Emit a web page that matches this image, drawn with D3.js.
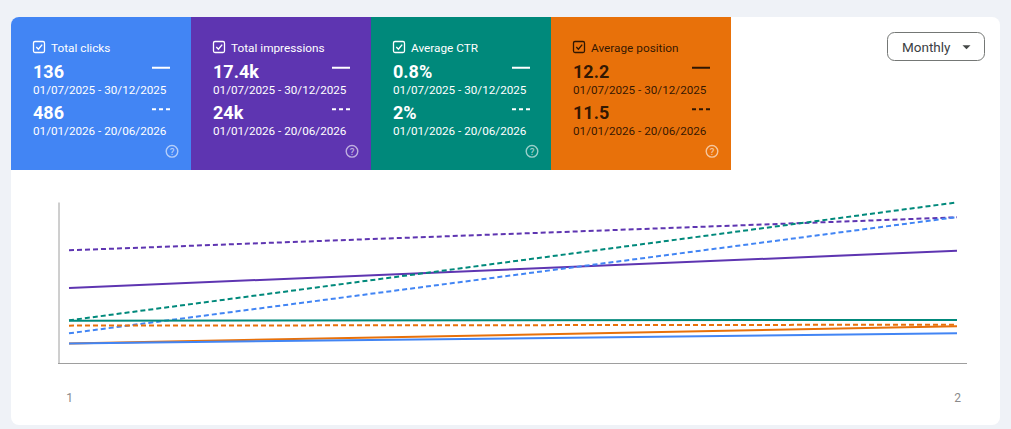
<!DOCTYPE html>
<html>
<head>
<meta charset="utf-8">
<script src="https://cdn.jsdelivr.net/npm/d3@7"></script>
<style>
  html, body { margin: 0; padding: 0; background: #eff2f7; }
  svg { display: block; font-family: Roboto, "Noto Sans", sans-serif; }
</style>
</head>
<body>
<script>
// metric tiles
var metrics = ["Total clicks", "Total impressions", "Average CTR", "Average position"];
var firstTotals = ["136", "17.4k", "0.8%", "12.2"];
var secondTotals = ["486", "24k", "2%", "11.5"];
var periods = ["01/07/2025 - 30/12/2025", "01/01/2026 - 20/06/2026"];

// x axis (months)
var months = [1, 2];

// series values, one pair per month (solid = first period, dashed = second period)
var clicksFirst = [19.5, 29.5];
var clicksSecond = [29.5, 145];
var impressionsFirst = [3730, 5580];
var impressionsSecond = [5600, 7240];
var ctrFirst = [1.05, 1.07];
var ctrSecond = [1.06, 3.99];
var positionFirst = [13.3, 11.8];
var positionSecond = [11.75, 11.67];

// each metric keeps its own scale, like the original chart
var metricDomains = [[0, 160], [0, 8000], [0, 4], [15, 1]];

var colors = ["#4285f4", "#5e35b1", "#00897b", "#e8710a"];
var textColors = ["#fff", "#fff", "#fff", "rgba(0,0,0,0.8)"];

var width = 1011;
var height = 429;

var svg = d3.select("body").append("svg")
    .attr("width", width)
    .attr("height", height);

// white card
svg.append("defs").append("clipPath")
    .attr("id", "card-clip")
    .append("rect")
    .attr("x", 11).attr("y", 17)
    .attr("width", 989).attr("height", 408)
    .attr("rx", 8);

svg.append("rect")
    .attr("x", 11).attr("y", 17)
    .attr("width", 989).attr("height", 408)
    .attr("rx", 8)
    .attr("fill", "#fff");

// tiles
var tileW = 180;
var tiles = svg.append("g").attr("clip-path", "url(#card-clip)")
    .selectAll("g")
    .data(metrics)
    .enter()
    .append("g")
    .attr("transform", function(d, i) {
        return "translate(" + (11 + i * tileW) + ",17)";
    });

tiles.append("rect")
    .attr("width", tileW)
    .attr("height", 153)
    .attr("fill", function(d, i) { return colors[i]; });

// checkbox
tiles.append("rect")
    .attr("x", 22.5).attr("y", 24.5)
    .attr("width", 11).attr("height", 11)
    .attr("rx", 1.5)
    .attr("fill", "none")
    .attr("stroke", function(d, i) { return textColors[i]; })
    .attr("stroke-width", 1.3);

tiles.append("path")
    .attr("d", "M25.3,30 L27.4,32.2 L31.2,27.6")
    .attr("fill", "none")
    .attr("stroke", function(d, i) { return textColors[i]; })
    .attr("stroke-width", 1.4);

tiles.append("text")
    .attr("x", 40).attr("y", 34.5)
    .attr("font-size", "11.8px")
    .attr("fill", function(d, i) { return textColors[i]; })
    .text(function(d) { return d; });

tiles.append("text")
    .attr("x", 22).attr("y", 60.5)
    .attr("font-size", "18px")
    .attr("font-weight", "bold")
    .attr("fill", function(d, i) { return textColors[i]; })
    .text(function(d, i) { return firstTotals[i]; });

tiles.append("text")
    .attr("x", 22).attr("y", 77)
    .attr("font-size", "11.7px")
    .attr("fill", function(d, i) { return textColors[i]; })
    .text(periods[0]);

tiles.append("text")
    .attr("x", 22).attr("y", 101.5)
    .attr("font-size", "18px")
    .attr("font-weight", "bold")
    .attr("fill", function(d, i) { return textColors[i]; })
    .text(function(d, i) { return secondTotals[i]; });

tiles.append("text")
    .attr("x", 22).attr("y", 117.5)
    .attr("font-size", "11.7px")
    .attr("fill", function(d, i) { return textColors[i]; })
    .text(periods[1]);

// line-style keys
tiles.append("line")
    .attr("x1", 141).attr("x2", 159)
    .attr("y1", 50.7).attr("y2", 50.7)
    .attr("stroke", function(d, i) { return textColors[i]; })
    .attr("stroke-width", 2);

tiles.append("line")
    .attr("x1", 141).attr("x2", 159)
    .attr("y1", 92.3).attr("y2", 92.3)
    .attr("stroke", function(d, i) { return textColors[i]; })
    .attr("stroke-width", 2)
    .attr("stroke-dasharray", "4,3");

// help icon
var help = tiles.append("g")
    .attr("transform", "translate(161,134.3)")
    .attr("opacity", 0.6);

help.append("circle")
    .attr("r", 5.8)
    .attr("fill", "none")
    .attr("stroke", "#fff")
    .attr("stroke-width", 1.4);

help.append("text")
    .attr("text-anchor", "middle")
    .attr("y", 3.4)
    .attr("font-size", "9.5px")
    .attr("font-weight", 500)
    .attr("fill", "#fff")
    .text("?");

// Monthly dropdown
svg.append("rect")
    .attr("x", 887.5).attr("y", 32.5)
    .attr("width", 97).attr("height", 28)
    .attr("rx", 7)
    .attr("fill", "#fff")
    .attr("stroke", "#747775");

svg.append("text")
    .attr("x", 902).attr("y", 51.5)
    .attr("font-size", "13.5px")
    .attr("fill", "#3c4043")
    .text("Monthly");

svg.append("path")
    .attr("d", "M962.5,45.3 L970.5,45.3 L966.5,49.3 Z")
    .attr("fill", "#444746");

// chart
var x = d3.scaleLinear()
    .domain([months[0], months[months.length - 1]])
    .range([69, 957]);

var plotTop = 202;
var plotBottom = 363;

var yScales = metricDomains.map(function(dom) {
    return d3.scaleLinear().domain(dom).range([plotBottom, plotTop]);
});

var series = [
    { metric: 1, dashed: true, values: impressionsSecond },
    { metric: 1, dashed: false, values: impressionsFirst },
    { metric: 2, dashed: true, values: ctrSecond },
    { metric: 0, dashed: true, values: clicksSecond },
    { metric: 2, dashed: false, values: ctrFirst },
    { metric: 3, dashed: true, values: positionSecond },
    { metric: 3, dashed: false, values: positionFirst },
    { metric: 0, dashed: false, values: clicksFirst }
];

// axes lines
svg.append("g")
    .attr("transform", "translate(58.5,0)")
    .attr("color", "#9e9e9e")
    .call(d3.axisLeft(yScales[0]).ticks(0).tickSizeOuter(0));

svg.append("line")
    .attr("x1", 58).attr("x2", 967)
    .attr("y1", plotBottom + 0.5).attr("y2", plotBottom + 0.5)
    .attr("stroke", "#9e9e9e");

var xAxis = svg.append("g")
    .attr("transform", "translate(0," + plotBottom + ")")
    .call(d3.axisBottom(x).tickValues(months).tickFormat(d3.format("d")).tickSize(0).tickPadding(30));

xAxis.select(".domain").remove();
xAxis.selectAll("text")
    .attr("font-family", "Roboto, sans-serif")
    .attr("font-size", "12px")
    .attr("fill", "#8a8a8a");

svg.selectAll(".series")
    .data(series)
    .enter()
    .append("path")
    .attr("class", "series")
    .attr("fill", "none")
    .attr("stroke", function(d) { return colors[d.metric]; })
    .attr("stroke-width", 2)
    .attr("stroke-dasharray", function(d) { return d.dashed ? "5,3" : null; })
    .attr("d", function(d) {
        var y = yScales[d.metric];
        return d3.line()
            .x(function(v, i) { return x(months[i]); })
            .y(function(v) { return y(v); })(d.values);
    });
</script>
</body>
</html>
